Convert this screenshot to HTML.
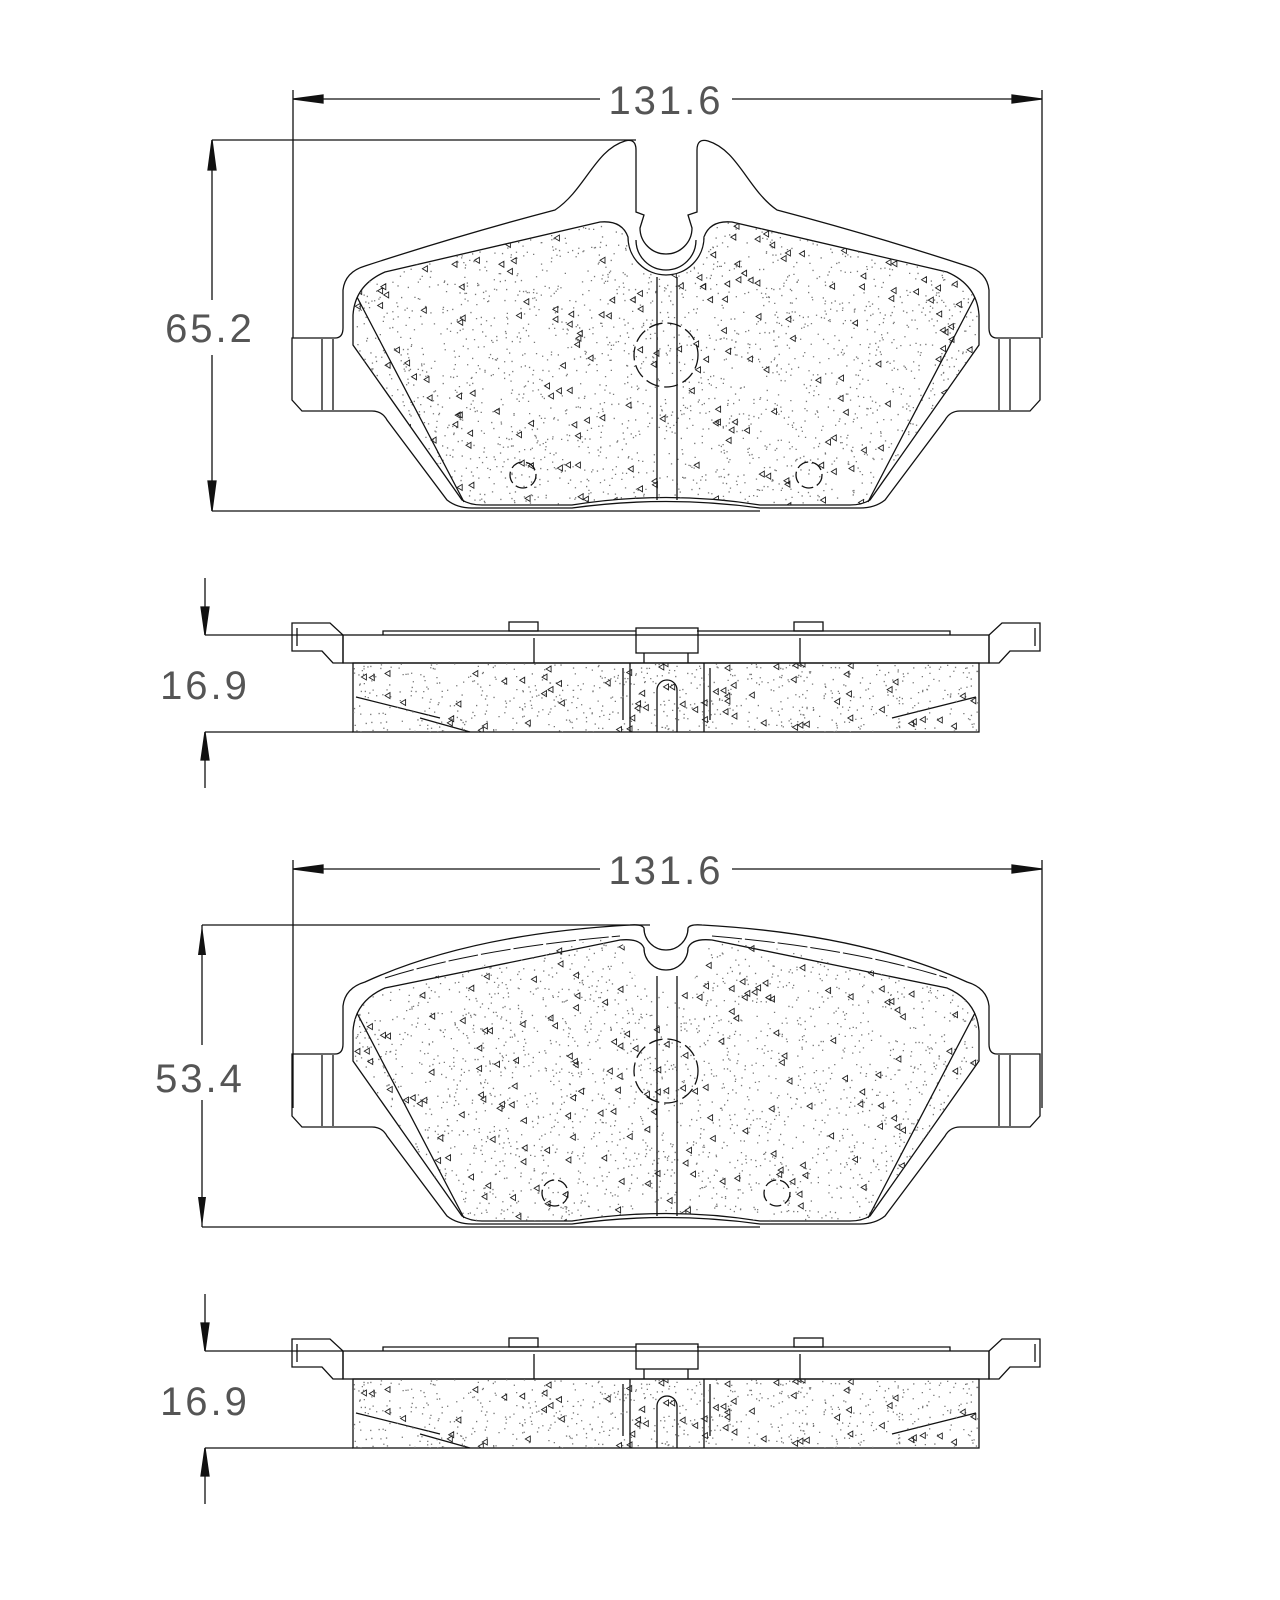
<!DOCTYPE html>
<html><head><meta charset="utf-8"><style>
html,body{margin:0;padding:0;background:#fff}
svg{display:block}
text{font-family:"Liberation Sans",sans-serif;font-size:40px;fill:#555;letter-spacing:3px}
</style></head><body>
<svg id="s" width="1280" height="1600" viewBox="0 0 1280 1600" xmlns="http://www.w3.org/2000/svg">
<defs>
<path id="fr" d="M353,315 Q355,285 385,272 L600,222 Q622,220 628,237 A38,38 0 0 0 704,237 Q710,220 732,222 L947,272 Q977,285 979,315 L979,345 L870,500 Q862,505 850,505 L760,505 Q666,490 572,505 L482,505 Q470,505 462,500 L353,345 Z"/>
<clipPath id="c1"><use href="#fr"/></clipPath>
<clipPath id="c2"><rect x="353" y="663" width="626" height="69"/></clipPath>
</defs>
<rect width="1280" height="1600" fill="#fff"/>
<g fill="none" stroke="#111" stroke-width="1.3">
<g id="dimw">
<line x1="293" y1="99" x2="600" y2="99"/><line x1="732" y1="99" x2="1042" y2="99"/>
<line x1="293" y1="90" x2="293" y2="338"/><line x1="1042" y1="90" x2="1042" y2="338"/>
<path d="M293,99 L323,95 L323,103 Z M1042,99 L1012,95 L1012,103 Z" fill="#111"/>
</g>
<line x1="212" y1="140" x2="636" y2="140"/><line x1="212" y1="511" x2="760" y2="511"/>
<line x1="212" y1="140" x2="212" y2="300"/><line x1="212" y1="355" x2="212" y2="511"/>
<path d="M212,140 L208,170 L216,170 Z M212,511 L208,481 L216,481 Z" fill="#111"/>
<path d="M292,338 L335,338 Q343,338 343,328 L343,290 Q345,272 365,266 Q460,235 555,210 C585,190 595,150 625,141 Q636,138 636,150 L636,212 L644,215 L640,228 A26,26 0 0 0 692,228 L688,215 L697,212 L697,150 Q697,138 708,141 C738,150 748,190 777,210 Q872,235 967,266 Q987,272 989,290 L989,328 Q989,338 997,338 L1040,338 L1040,400 L1030,411 L960,411 Q950,411 945,420 L885,500 Q875,508 860,508 L760,508 Q666,495 572,508 L472,508 Q457,508 447,500 L387,420 Q382,411 372,411 L302,411 L292,400 Z"/>
<path d="M636,240 A30,30 0 0 0 696,240"/>
<line x1="322" y1="339" x2="322" y2="410"/><line x1="333" y1="339" x2="333" y2="410"/>
<line x1="999" y1="339" x2="999" y2="410"/><line x1="1010" y1="339" x2="1010" y2="410"/>
<use href="#fr"/>
<g id="sp1"></g>
<path d="M657,277 L657,500 M677,277 L677,500"/>
<path d="M357,297 L464,502 M975,297 L868,502"/>
<circle cx="666" cy="355" r="32" stroke-dasharray="14 5"/>
<circle cx="523" cy="475" r="13" stroke-dasharray="12 4"/>
<circle cx="809" cy="475" r="13" stroke-dasharray="12 4"/>

<g id="side">
<line x1="205" y1="578" x2="205" y2="635"/><path d="M205,635 L201,607 L209,607 Z" fill="#111"/>
<line x1="205" y1="635" x2="343" y2="635"/>
<line x1="205" y1="732" x2="353" y2="732"/>
<line x1="205" y1="732" x2="205" y2="788"/><path d="M205,732 L201,760 L209,760 Z" fill="#111"/>
<path d="M292,623 L330,623 L343,635 L343,663 L333,663 L322,651 L292,651 Z"/>
<line x1="297" y1="628" x2="297" y2="646"/>
<path d="M1040,623 L1002,623 L989,635 L989,663 L999,663 L1010,651 L1040,651 Z"/>
<line x1="1035" y1="628" x2="1035" y2="646"/>
<rect x="343" y="635" width="646" height="28"/>
<path d="M383,635 L383,631 L636,631 M697,631 L950,631 L950,635"/>
<rect x="509" y="622" width="29" height="9"/>
<rect x="794" y="622" width="29" height="9"/>
<rect x="636" y="628" width="62" height="25"/>
<line x1="644" y1="653" x2="644" y2="663"/><line x1="688" y1="653" x2="688" y2="663"/>
<line x1="534" y1="638" x2="534" y2="663"/><line x1="800" y1="638" x2="800" y2="663"/>
<rect x="353" y="663" width="626" height="69"/>
<path d="M630,663 L630,732 M704,663 L704,732 M623,668 L623,720 M710,668 L710,720"/>
<path d="M657,732 L657,690 A10,10 0 0 1 677,690 L677,732"/>
<path d="M356,697 L440,718 M470,732 L420,718 M976,697 L892,718"/>
</g>
</g>
<text x="666" y="114" text-anchor="middle">131.6</text>
<text x="210" y="342" text-anchor="middle">65.2</text>
<text x="205" y="699" text-anchor="middle">16.9</text>

<g transform="translate(0,716)" fill="none" stroke="#111" stroke-width="1.3">
<use href="#dimw" transform="translate(0,54)"/>
<path d="M292,338 L335,338 Q343,338 343,328 L343,290 Q345,272 365,266 Q470,218 630,209 Q642,208 644,212 A22,22 0 0 0 688,212 Q690,208 702,209 Q862,218 967,266 Q987,272 989,290 L989,328 Q989,338 997,338 L1040,338 L1040,400 L1030,411 L960,411 Q950,411 945,420 L885,500 Q875,508 860,508 L760,508 Q666,495 572,508 L472,508 Q457,508 447,500 L387,420 Q382,411 372,411 L302,411 L292,400 Z"/>
<line x1="322" y1="339" x2="322" y2="410"/><line x1="333" y1="339" x2="333" y2="410"/>
<line x1="999" y1="339" x2="999" y2="410"/><line x1="1010" y1="339" x2="1010" y2="410"/>
<path d="M385,262 Q480,232 620,220 M712,220 Q852,232 947,262" stroke-dasharray="30 3" stroke-width="1"/>
<path d="M353,315 Q355,285 385,272 L620,224 Q640,222 644,232 A22,22 0 0 0 688,232 Q692,222 712,224 L947,272 Q977,285 979,315 L979,345 L870,500 Q862,505 850,505 L760,505 Q666,490 572,505 L482,505 Q470,505 462,500 L353,345 Z"/>
<g id="sp2"></g>
<path d="M657,260 L657,500 M677,260 L677,500"/>
<path d="M357,297 L464,502 M975,297 L868,502"/>
<circle cx="666" cy="355" r="32" stroke-dasharray="14 5"/>
<circle cx="555" cy="477" r="13" stroke-dasharray="12 4"/>
<circle cx="777" cy="477" r="13" stroke-dasharray="12 4"/>
<use href="#side"/>
</g>
<line x1="202" y1="925" x2="650" y2="925" stroke="#111" stroke-width="1.3"/>
<line x1="202" y1="925" x2="202" y2="1045" stroke="#111" stroke-width="1.3"/>
<line x1="202" y1="1100" x2="202" y2="1227" stroke="#111" stroke-width="1.3"/>
<path d="M202,925 L198,955 L206,955 Z M202,1227 L198,1197 L206,1197 Z" fill="#111"/>
<line x1="202" y1="1227" x2="760" y2="1227" stroke="#111" stroke-width="1.3"/>
<text x="666" y="884" text-anchor="middle">131.6</text>
<text x="200" y="1092" text-anchor="middle">53.4</text>
<text x="205" y="1415" text-anchor="middle">16.9</text>
</svg>
<script>
(function(){
var s=12345;function r(){s=(s*1103515245+12345)%2147483648;return s/2147483648;}
var NS="http://www.w3.org/2000/svg";
function fill(id,clip,x0,y0,w,h,nd,nt){
 var g=document.getElementById(id);
 var gg=document.createElementNS(NS,"g");gg.setAttribute("clip-path","url(#"+clip+")");
 var d="",t="";
 for(var i=0;i<nd;i++){var x=x0+r()*w,y=y0+r()*h;d+="M"+x.toFixed(1)+","+y.toFixed(1)+"h1.3v1.3h-1.3z";}
 for(var i=0;i<nt;i++){var x=x0+r()*w,y=y0+r()*h;t+="M"+x.toFixed(1)+","+y.toFixed(1)+"l5,-3l0,6z";}
 var p=document.createElementNS(NS,"path");p.setAttribute("d",d);p.setAttribute("fill","#777");p.setAttribute("stroke","none");gg.appendChild(p);
 var q=document.createElementNS(NS,"path");q.setAttribute("d",t);q.setAttribute("fill","none");q.setAttribute("stroke","#222");q.setAttribute("stroke-width","0.9");gg.appendChild(q);
 g.appendChild(gg);
}
fill("sp1","c1",353,215,626,295,2600,220);
fill("sp2","c1",353,215,626,295,2600,220);
var sd=document.getElementById("side");
var g3=document.createElementNS(NS,"g");g3.id="sp3";sd.appendChild(g3);
fill("sp3","c2",353,663,626,69,700,70);
})();
</script>
</body></html>
